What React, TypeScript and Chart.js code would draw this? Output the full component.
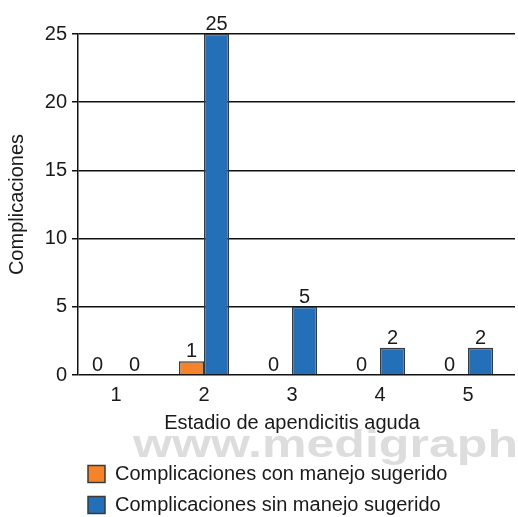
import React, { useEffect, useRef } from "react";
import { Chart, registerables } from "chart.js";

Chart.register(...registerables);

const categories = ["1", "2", "3", "4", "5"];
const conManejo = [0, 1, 0, 0, 0];
const sinManejo = [0, 25, 5, 2, 2];
const yTicks = [0, 5, 10, 15, 20, 25];
const seriesNames = ["Complicaciones con manejo sugerido", "Complicaciones sin manejo sugerido"];
const xTitle = "Estadio de apendicitis aguda";
const yTitle = "Complicaciones";
const watermark = "www.medigraphic";

const FONT = "'Liberation Sans', Arial, Helvetica, sans-serif";
const TEXT = "#1a1a1a";

const watermarkPlugin = {
  id: "watermark",
  beforeDraw(chart: any) {
    const ctx = chart.ctx;
    ctx.save();
    ctx.font = "bold 39px 'Liberation Sans', Arial, sans-serif";
    const w = ctx.measureText("www.medigraph").width;
    const sx = 385 / w;
    ctx.translate(133, 457);
    ctx.scale(sx, 1);
    ctx.fillStyle = "#dddddd";
    ctx.textBaseline = "alphabetic";
    ctx.textAlign = "left";
    ctx.fillText(watermark, 0, 0);
    ctx.restore();
  },
};

const shiftPlugin = {
  id: "shiftAxis",
  afterLayout(chart: any) {
    const s = chart.scales.x;
    s.left = 72;
    s.right = 512;
    s.configure();
    if (chart.legend) {
      chart.legend.left -= 1;
    }
  },
};

const valueLabelPlugin = {
  id: "valueLabels",
  afterDatasetsDraw(chart: any) {
    const ctx = chart.ctx;
    ctx.save();
    ctx.font = `20px ${FONT}`;
    ctx.fillStyle = TEXT;
    ctx.textAlign = "center";
    ctx.textBaseline = "alphabetic";
    chart.data.datasets.forEach((ds: any, di: number) => {
      const meta = chart.getDatasetMeta(di);
      meta.data.forEach((bar: any, i: number) => {
        const v = ds.data[i];
        let x = bar.x;
        if (v === 0) x += di === 0 ? -6 : 6;
        ctx.fillText(String(v), x, bar.y - 4);
      });
    });
    ctx.restore();
  },
};

export default function App() {
  const ref = useRef<HTMLCanvasElement>(null);
  useEffect(() => {
    if (!ref.current) return;
    const chart = new Chart(ref.current, {
      type: "bar",
      data: {
        labels: categories,
        datasets: [
          {
            label: seriesNames[0],
            data: conManejo,
            backgroundColor: "#F4832A",
            borderColor: "#3a3a3a",
            borderWidth: 1.5,
            categoryPercentage: 0.57,
            barPercentage: 1,
          },
          {
            label: seriesNames[1],
            data: sinManejo,
            backgroundColor: "#2370B9",
            borderColor: "#3a3a3a",
            borderWidth: 1.5,
            categoryPercentage: 0.57,
            barPercentage: 1,
          },
        ],
      },
      options: {
        animation: false,
        responsive: true,
        maintainAspectRatio: false,
        layout: { padding: { left: 0, right: 3, top: 34, bottom: -8 } },
        plugins: {
          tooltip: { enabled: false },
          legend: {
            position: "bottom",
            align: "start",
            fullSize: false,
            labels: {
              boxWidth: 17,
              boxHeight: 17,
              padding: 11,
              color: TEXT,
              font: { family: FONT, size: 20 },
            },
          },
        },
        scales: {
          x: {
            grid: { display: false, drawTicks: false },
            border: { display: false },
            ticks: { color: TEXT, font: { family: FONT, size: 20 }, padding: 8 },
            title: {
              display: true,
              text: xTitle,
              color: TEXT,
              font: { family: FONT, size: 20 },
              padding: { top: 0, bottom: 18 },
            },
            afterFit(scale: any) {
              scale.height = 78;
            },
          },
          y: {
            min: 0,
            max: 25,
            afterBuildTicks(scale: any) {
              scale.ticks = yTicks.map((v) => ({ value: v }));
            },
            grid: { color: "#111", lineWidth: 1.5, drawTicks: true, tickLength: 6 },
            border: { display: true, color: "#111", width: 1.5 },
            ticks: { color: TEXT, font: { family: FONT, size: 20 }, padding: 5 },
            title: {
              display: true,
              text: yTitle,
              color: TEXT,
              font: { family: FONT, size: 20 },
              padding: { top: 5, bottom: 0 },
            },
            afterFit(scale: any) {
              scale.width = 78;
            },
          },
        },
      },
      plugins: [watermarkPlugin, shiftPlugin, valueLabelPlugin],
    });
    return () => chart.destroy();
  }, []);
  return (
    <div style={{ position: "fixed", left: 0, top: 0, width: 518, height: 517, background: "#fff" }}>
      <canvas ref={ref} />
    </div>
  );
}
